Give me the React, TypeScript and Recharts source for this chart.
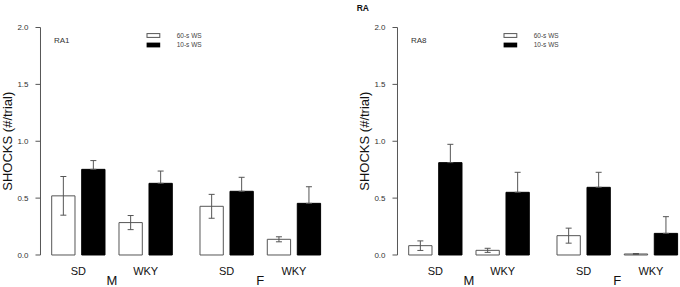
import React from 'react';
import { BarChart, Bar, XAxis, YAxis, ErrorBar } from 'recharts';

// ---- data ----
const strains = ['SD', 'WKY'];
const sexes = ['M', 'F'];
const yTicks = [0, 0.5, 1.0, 1.5, 2.0];
const seriesNames = ['60-s WS', '10-s WS'];
const panelNames = ['RA1', 'RA8'];
const pageTitle = 'RA';
const yAxisTitle = 'SHOCKS (#/trial)';

// order: M-SD, M-WKY, F-SD, F-WKY
const ra1Ws60 = [0.52, 0.285, 0.428, 0.138];
const ra1Ws60Se = [0.17, 0.062, 0.105, 0.022];
const ra1Ws10 = [0.753, 0.63, 0.56, 0.454];
const ra1Ws10Se = [0.077, 0.108, 0.123, 0.146];

const ra8Ws60 = [0.082, 0.041, 0.17, 0.009];
const ra8Ws60Se = [0.042, 0.018, 0.066, 0.004];
const ra8Ws10 = [0.812, 0.551, 0.595, 0.19];
const ra8Ws10Se = [0.161, 0.176, 0.132, 0.147];

// ---- layout ----
const FONT = '"Liberation Sans", Arial, sans-serif';
const H = 287;
const PLOT_TOP = 27.5;
const AXIS_X = 40.5;
const PAD = 4.2;
const BAND = 67.3;
const F_LEFT = 193.3;
const PANEL_SHIFT = 357;
const BAR_W = 23.3;
const BAR_GAP = 6.7;
const AXIS_COLOR = '#555';

function buildRows(s: number, m60: number[], s60: number[], m10: number[], s10: number[]) {
  return strains.map((strain, j) => {
    const i = s * 2 + j;
    return {
      strain,
      ws60: m60[i],
      ws60Err: s60[i],
      ws10: m10[i],
      ws10Err: [0, s10[i]],
    };
  });
}

function SexChart({ rows, sex, withAxis, left }: any) {
  const width = withAxis ? AXIS_X + PAD + 2 * BAND : 2 * BAND;
  return (
    <div style={{ position: 'absolute', left, top: 0 }}>
      <BarChart
        width={width}
        height={H}
        data={rows}
        margin={{ top: PLOT_TOP, right: 0, bottom: 0, left: 0 }}
        barGap={BAR_GAP}
      >
        <XAxis
          dataKey="strain"
          type="category"
          axisLine={false}
          tickLine={false}
          tickSize={0}
          tickMargin={12}
          height={32}
          padding={withAxis ? { left: PAD, right: 0 } : { left: 0, right: 0 }}
          tick={{ fontSize: 11, fill: '#111', fontFamily: FONT }}
          label={{
            value: sex,
            position: 'insideBottom',
            offset: 2,
            dx: withAxis ? PAD / 2 : 0,
            fontSize: 13,
            fill: '#111',
            fontFamily: FONT,
          }}
        />
        {withAxis ? (
          <YAxis
            type="number"
            domain={[0, 2]}
            ticks={yTicks}
            interval={0}
            width={AXIS_X}
            tickSize={5}
            tickMargin={7}
            tickFormatter={(v: number) => v.toFixed(1)}
            axisLine={{ stroke: AXIS_COLOR, strokeWidth: 1 }}
            tickLine={{ stroke: AXIS_COLOR, strokeWidth: 1 }}
            tick={{ fontSize: 8, fill: '#333', fontFamily: FONT }}
          />
        ) : (
          <YAxis type="number" domain={[0, 2]} ticks={yTicks} hide width={0} />
        )}
        <Bar
          dataKey="ws60"
          name={seriesNames[0]}
          fill="#ffffff"
          stroke="#555"
          strokeWidth={1}
          barSize={BAR_W}
          isAnimationActive={false}
        >
          <ErrorBar dataKey="ws60Err" width={3} stroke="#555" strokeWidth={1} direction="y" />
        </Bar>
        <Bar
          dataKey="ws10"
          name={seriesNames[1]}
          fill="#000000"
          stroke="#000"
          strokeWidth={1}
          barSize={BAR_W}
          isAnimationActive={false}
        >
          <ErrorBar dataKey="ws10Err" width={3} stroke="#555" strokeWidth={1} direction="y" />
        </Bar>
      </BarChart>
    </div>
  );
}

function Panel({ offset, m60, s60, m10, s10 }: any) {
  return (
    <>
      {sexes.map((sex, s) => (
        <SexChart
          key={sex}
          sex={sex}
          rows={buildRows(s, m60, s60, m10, s10)}
          withAxis={s === 0}
          left={offset + (s === 0 ? 0 : F_LEFT)}
        />
      ))}
    </>
  );
}

function PanelText({ offset, name }: any) {
  return (
    <g fontFamily={FONT}>
      <text x={offset + 54} y={43.3} fontSize={8} fill="#333">{name}</text>
      <text
        transform={`translate(${offset + 11.7}, 141.2) rotate(-90)`}
        textAnchor="middle"
        fontSize={13}
        fill="#111"
      >
        {yAxisTitle}
      </text>
      <rect x={offset + 147} y={33.6} width={12.8} height={3.8} fill="#fff" stroke="#555" strokeWidth={1} />
      <rect x={offset + 146.6} y={42.6} width={13.6} height={4.8} fill="#000" />
      <text x={offset + 176.7} y={38.2} fontSize={6.5} fill="#444">{seriesNames[0]}</text>
      <text x={offset + 176.7} y={47.4} fontSize={6.5} fill="#444">{seriesNames[1]}</text>
    </g>
  );
}

export default function App() {
  return (
    <div
      style={{
        position: 'absolute',
        left: 0,
        top: 0,
        width: 680,
        height: H,
        background: '#fff',
        overflow: 'hidden',
        fontFamily: FONT,
      }}
    >
      <Panel offset={0} m60={ra1Ws60} s60={ra1Ws60Se} m10={ra1Ws10} s10={ra1Ws10Se} />
      <Panel offset={PANEL_SHIFT} m60={ra8Ws60} s60={ra8Ws60Se} m10={ra8Ws10} s10={ra8Ws10Se} />
      <svg
        width={680}
        height={H}
        style={{ position: 'absolute', left: 0, top: 0, pointerEvents: 'none' }}
      >
        <text x={356.7} y={10.5} fontSize={8.5} fontWeight="bold" fill="#111" fontFamily={FONT}>
          {pageTitle}
        </text>
        <PanelText offset={0} name={panelNames[0]} />
        <PanelText offset={PANEL_SHIFT} name={panelNames[1]} />
      </svg>
    </div>
  );
}
